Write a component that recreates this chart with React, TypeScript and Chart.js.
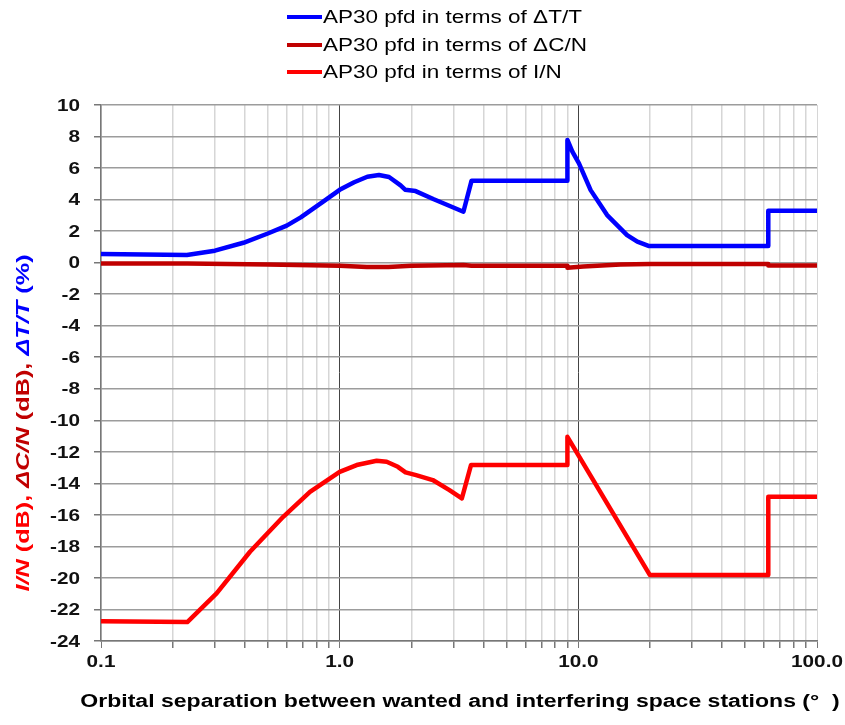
import { useEffect, useRef } from 'react';
import { Chart, registerables } from 'chart.js';

Chart.register(...registerables);

const FONT = '"Liberation Sans", Arial, Helvetica, sans-serif';

const seriesLabels = [
  'AP30 pfd in terms of ΔT/T',
  'AP30 pfd in terms of ΔC/N',
  'AP30 pfd in terms of I/N',
];
const seriesColors = ['#0000FF', '#C00000', '#FF0000'];

// ΔT/T (%)
const dtX = [0.1, 0.229, 0.3, 0.395, 0.5, 0.6, 0.687, 0.85, 1.0, 1.15, 1.306, 1.461, 1.61, 1.8, 1.88, 2.08, 2.48, 3.3, 3.57, 9.0, 9.0, 9.44, 10.06, 11.26, 13.2, 16.0, 17.67, 19.8, 62.5, 62.5, 100];
const dtY = [0.55, 0.48, 0.76, 1.26, 1.85, 2.35, 2.87, 3.85, 4.62, 5.1, 5.45, 5.56, 5.43, 4.9, 4.63, 4.54, 4.02, 3.23, 5.2, 5.2, 7.78, 7.04, 6.3, 4.6, 3.02, 1.75, 1.33, 1.05, 1.05, 3.29, 3.29];

// ΔC/N (dB)
const cnX = [0.1, 0.23, 0.5, 1.0, 1.3, 1.6, 2.0, 3.3, 3.57, 9.0, 9.0, 10.5, 15, 20, 62.5, 62.5, 100];
const cnY = [-0.05, -0.05, -0.12, -0.2, -0.28, -0.28, -0.2, -0.15, -0.2, -0.2, -0.32, -0.25, -0.12, -0.08, -0.08, -0.18, -0.18];

// I/N (dB)
const inX = [0.1, 0.23, 0.305, 0.421, 0.58, 0.751, 1.0, 1.178, 1.429, 1.574, 1.753, 1.888, 2.09, 2.455, 2.884, 3.25, 3.55, 9.0, 9.0, 19.95, 62.5, 62.5, 100];
const inY = [-22.74, -22.8, -20.98, -18.34, -16.12, -14.54, -13.27, -12.84, -12.57, -12.63, -12.95, -13.3, -13.48, -13.79, -14.43, -14.96, -12.84, -12.84, -11.05, -19.82, -19.82, -14.85, -14.85];

const xDecades = [0.1, 1, 10];
const xMultipliers = [1, 2, 3, 4, 5, 6, 7, 8, 9];
const xMax = 100;
const xDecadeLabels: Record<string, string> = { '0.1': '0.1', '1': '1.0', '10': '10.0', '100': '100.0' };
const yMin = -24;
const yMax = 10;
const yStep = 2;

const xTitle = 'Orbital separation between wanted and interfering space stations (°  )';
const yTitleParts = [
  { text: 'I/N', italic: true, color: '#FF0000' },
  { text: ' (dB), ', italic: false, color: '#FF0000' },
  { text: 'ΔC/N', italic: true, color: '#C00000' },
  { text: ' (dB), ', italic: false, color: '#C00000' },
  { text: 'ΔT/T', italic: true, color: '#0000FF' },
  { text: ' (%)', italic: false, color: '#0000FF' },
];

const isDecade = (v: number) => {
  const l = Math.log10(v);
  return Math.abs(l - Math.round(l)) < 1e-6;
};

const toPoints = (xs: number[], ys: number[]) => xs.map((x, i) => ({ x, y: ys[i] }));

function stretchedText(
  ctx: CanvasRenderingContext2D,
  text: string,
  x: number,
  y: number,
  align: CanvasTextAlign,
  font: string,
  color: string,
  sx: number,
) {
  ctx.save();
  ctx.translate(x, y);
  ctx.scale(sx, 1);
  ctx.font = font;
  ctx.fillStyle = color;
  ctx.textAlign = align;
  ctx.textBaseline = 'middle';
  ctx.fillText(text, 0, 0);
  ctx.restore();
}

const overlayPlugin = {
  id: 'overlay',
  afterDraw(chart: any) {
    const ctx = chart.ctx as CanvasRenderingContext2D;
    ctx.save();
    // legend
    const rowsY = [17, 45, 72];
    seriesLabels.forEach((lab, i) => {
      ctx.strokeStyle = seriesColors[i];
      ctx.lineWidth = 4;
      ctx.lineCap = 'butt';
      ctx.beginPath();
      ctx.moveTo(287, rowsY[i]);
      ctx.lineTo(322, rowsY[i]);
      ctx.stroke();
      stretchedText(ctx, lab, 323, rowsY[i] + 1, 'left', `18px ${FONT}`, '#000', 1.25);
    });

    // tick labels via the library's scales
    const tickFont = `bold 17px ${FONT}`;
    const ys = chart.scales.y;
    ys.ticks.forEach((t: any) => {
      const py = ys.getPixelForValue(t.value);
      stretchedText(ctx, String(t.value), 80, py + 1, 'right', tickFont, '#111', 1.22);
    });
    const xs = chart.scales.x;
    xs.ticks.forEach((t: any) => {
      if (!isDecade(t.value)) return;
      const k = String(Number(Number(t.value).toPrecision(6)));
      const lab = xDecadeLabels[k];
      if (!lab) return;
      const px = xs.getPixelForValue(t.value);
      stretchedText(ctx, lab, px, 662, 'center', tickFont, '#111', 1.22);
    });

    // x title
    const ca = chart.chartArea;
    stretchedText(ctx, xTitle, (ca.left + ca.right) / 2 + 1, 702, 'center', `bold 18px ${FONT}`, '#000', 1.28);

    // y title
    ctx.translate(24, 423);
    ctx.rotate(-Math.PI / 2);
    ctx.scale(1.33, 1);
    const fontOf = (it: boolean) => `${it ? 'italic ' : ''}bold 19px ${FONT}`;
    let total = 0;
    yTitleParts.forEach((p) => {
      ctx.font = fontOf(p.italic);
      total += ctx.measureText(p.text).width;
    });
    let x = -total / 2;
    ctx.textBaseline = 'middle';
    ctx.textAlign = 'left';
    yTitleParts.forEach((p) => {
      ctx.font = fontOf(p.italic);
      ctx.fillStyle = p.color;
      ctx.fillText(p.text, x, 0);
      x += ctx.measureText(p.text).width;
    });
    ctx.restore();
  },
};

export default function App() {
  const ref = useRef<HTMLCanvasElement | null>(null);
  useEffect(() => {
    document.body.style.margin = '0';
    const xTicks: number[] = [];
    xDecades.forEach((d) => xMultipliers.forEach((m) => xTicks.push(Number((d * m).toPrecision(6)))));
    xTicks.push(xMax);

    const lineStyle = { borderWidth: 4.5, pointRadius: 0, tension: 0, borderJoinStyle: 'round' as const, borderCapStyle: 'butt' as const };

    const chart = new Chart(ref.current as HTMLCanvasElement, {
      type: 'line',
      data: {
        datasets: [
          { label: seriesLabels[0], data: toPoints(dtX, dtY), borderColor: seriesColors[0], backgroundColor: seriesColors[0], ...lineStyle },
          { label: seriesLabels[1], data: toPoints(cnX, cnY), borderColor: seriesColors[1], backgroundColor: seriesColors[1], ...lineStyle },
          { label: seriesLabels[2], data: toPoints(inX, inY), borderColor: seriesColors[2], backgroundColor: seriesColors[2], ...lineStyle },
        ],
      },
      options: {
        animation: false,
        responsive: true,
        maintainAspectRatio: false,
        layout: { padding: { top: 105, right: 28, bottom: 0, left: 0 } },
        plugins: { legend: { display: false }, tooltip: { enabled: false } },
        scales: {
          x: {
            type: 'logarithmic',
            min: 0.1,
            max: xMax,
            afterBuildTicks: (scale: any) => {
              scale.ticks = xTicks.map((v) => ({ value: v }));
            },
            afterFit: (scale: any) => {
              scale.height = 84;
            },
            ticks: {
              display: false,
              autoSkip: false,
              maxRotation: 0,
            },
            grid: {
              color: (c: any) => (c.tick && isDecade(c.tick.value) && c.tick.value > 0.1 && c.tick.value < 100 ? '#444444' : '#d6d6d6'),
              lineWidth: (c: any) => (c.tick && isDecade(c.tick.value) ? 1 : 1.5),
              tickColor: '#777',
              tickLength: 7,
            },
            border: { color: '#777', width: 1.5 },
            title: { display: false, text: xTitle },
          },
          y: {
            type: 'linear',
            min: yMin,
            max: yMax,
            afterFit: (scale: any) => {
              scale.width = 101;
            },
            ticks: {
              display: false,
              stepSize: yStep,
            },
            grid: {
              color: '#9c9c9c',
              lineWidth: 1.5,
              tickColor: '#777',
              tickLength: 7,
            },
            border: { color: '#777', width: 1.5 },
          },
        },
      },
      plugins: [overlayPlugin],
    } as any);
    return () => chart.destroy();
  }, []);
  return (
    <div style={{ position: 'absolute', left: 0, top: 0, width: 845, height: 725 }}>
      <canvas ref={ref} />
    </div>
  );
}
